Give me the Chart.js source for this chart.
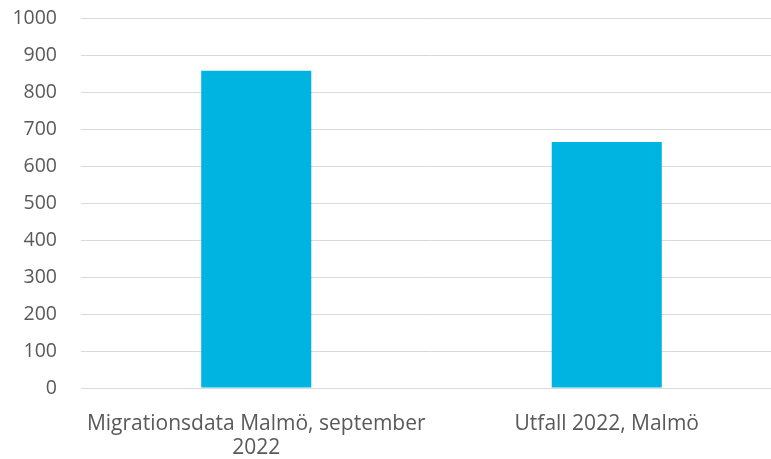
<!DOCTYPE html>
<html>
<head>
<meta charset="utf-8">
<script src="https://cdn.jsdelivr.net/npm/chart.js@4/dist/chart.umd.min.js"></script>
<style>
  html, body { margin: 0; padding: 0; background: #fff; overflow: hidden; }
  #wrap { width: 782px; height: 476px; margin-top: -17px; }
</style>
</head>
<body>
<div id="wrap"><canvas id="chart"></canvas></div>
<script>
const categories = [['Migrationsdata Malmö, september', '2022'], 'Utfall 2022, Malmö'];
const values = [859, 666];
const yTicks = [0, 100, 200, 300, 400, 500, 600, 700, 800, 900, 1000];

// plot runs a bit past the right edge, like the original
const ctx = document.getElementById('chart').getContext('2d');
new Chart(ctx, {
    type: 'bar',
    data: {
        labels: categories,
        datasets: [{
            data: values,
            backgroundColor: '#00b4e1',
            categoryPercentage: 1,
            barPercentage: 0.314
        }]
    },
    options: {
        responsive: true,
        maintainAspectRatio: false,
        animation: false,
        layout: { padding: { top: 3, right: 0, left: 0, bottom: 0 } },
        plugins: { legend: { display: false }, tooltip: { enabled: false } },
        scales: {
            x: {
                grid: { display: false, drawTicks: false },
                border: { display: false },
                ticks: {
                    color: '#595959',
                    font: { family: 'Open Sans', size: 21, lineHeight: 1.15 },
                    maxRotation: 0,
                    padding: 24
                },
                afterFit: s => { s.height = 71; }
            },
            y: {
                min: 0,
                max: 1000,
                afterBuildTicks: s => { s.ticks = yTicks.map(v => ({ value: v })); },
                grid: { color: '#d9d9d9', lineWidth: 1, drawTicks: false },
                border: { display: false },
                ticks: {
                    color: '#595959',
                    font: { family: 'Open Sans', size: 19.5 },
                    padding: 24,
                    callback: v => String(v)
                },
                afterFit: s => { s.width = 81; }
            }
        }
    }
});
</script>
</body>
</html>
